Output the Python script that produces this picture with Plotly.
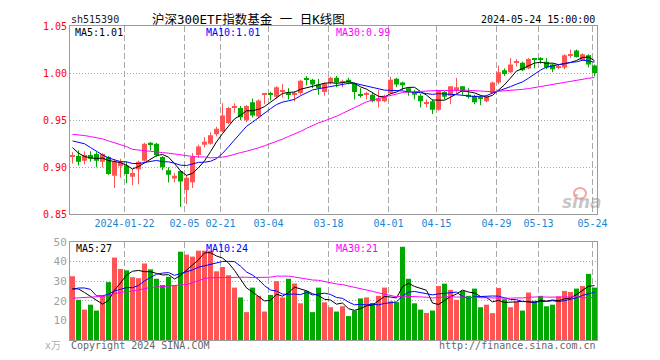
import numpy as np
import plotly.graph_objects as go

# ---------------- data ----------------
date_ticks = ["2024-01-22", "02-05", "02-21", "03-04", "03-18",
              "04-01", "04-15", "04-29", "05-13", "05-24"]
date_tick_idx = [9, 19, 25, 33, 43, 53, 61, 71, 78, 87]

open_ = [0.911, 0.912, 0.907, 0.913, 0.914, 0.906, 0.911, 0.891, 0.901, 0.902,
         0.890, 0.898, 0.907, 0.926, 0.925, 0.911, 0.897, 0.888, 0.896, 0.876,
         0.884, 0.913, 0.924, 0.925, 0.935, 0.938, 0.947, 0.963, 0.963, 0.950,
         0.969, 0.954, 0.977, 0.978, 0.975, 0.980, 0.979, 0.977, 0.979, 0.994,
         0.993, 0.988, 0.980, 0.990, 0.995, 0.990, 0.993, 0.989, 0.977, 0.977,
         0.977, 0.970, 0.970, 0.979, 0.994, 0.990, 0.984, 0.980, 0.976, 0.968,
         0.970, 0.961, 0.980, 0.976, 0.981, 0.986, 0.977, 0.976, 0.974, 0.970,
         0.979, 0.990, 1.003, 1.001, 1.011, 1.011, 1.005, 1.015, 1.015, 1.012,
         1.009, 1.006, 1.006, 1.019, 1.024, 1.014, 1.019, 1.008]
high = [0.916, 0.918, 0.917, 0.917, 0.916, 0.915, 0.912, 0.908, 0.909, 0.906,
        0.898, 0.907, 0.926, 0.927, 0.926, 0.912, 0.900, 0.894, 0.897, 0.892,
        0.915, 0.924, 0.932, 0.937, 0.943, 0.968, 0.964, 0.968, 0.965, 0.966,
        0.973, 0.972, 0.979, 0.980, 0.986, 0.9885, 0.984, 0.981, 0.993, 0.997,
        0.994, 0.994, 0.990, 0.996, 0.997, 0.993, 0.995, 0.990, 0.984, 0.980,
        0.979, 0.982, 0.977, 0.996, 0.995, 0.991, 0.985, 0.982, 0.978, 0.972,
        0.972, 0.982, 0.981, 0.986, 0.995, 0.986, 0.984, 0.977, 0.976, 0.977,
        0.991, 1.008, 1.005, 1.016, 1.015, 1.012, 1.016, 1.016, 1.017, 1.016,
        1.010, 1.009, 1.020, 1.025, 1.025, 1.021, 1.020, 1.009]
low = [0.904, 0.902, 0.903, 0.906, 0.900, 0.900, 0.892, 0.878, 0.889, 0.883,
       0.881, 0.882, 0.906, 0.918, 0.911, 0.897, 0.884, 0.884, 0.858, 0.861,
       0.878, 0.910, 0.921, 0.924, 0.933, 0.937, 0.946, 0.958, 0.950, 0.948,
       0.953, 0.952, 0.967, 0.971, 0.973, 0.974, 0.972, 0.970, 0.977, 0.987,
       0.984, 0.977, 0.976, 0.988, 0.985, 0.985, 0.988, 0.972, 0.974, 0.972,
       0.969, 0.9635, 0.969, 0.978, 0.985, 0.982, 0.976, 0.972, 0.9635, 0.9635,
       0.9566, 0.960, 0.972, 0.967, 0.979, 0.977, 0.973, 0.967, 0.966, 0.969,
       0.978, 0.988, 0.997, 1.000, 1.007, 1.002, 1.004, 1.005, 1.010, 1.004,
       1.001, 1.004, 1.004, 1.016, 1.0165, 1.013, 1.006, 0.9965]
close = [0.912, 0.906, 0.913, 0.909, 0.907, 0.914, 0.893, 0.906, 0.905, 0.893,
         0.894, 0.906, 0.925, 0.924, 0.913, 0.900, 0.892, 0.891, 0.885, 0.889,
         0.911, 0.922, 0.927, 0.934, 0.941, 0.955, 0.963, 0.964, 0.953, 0.965,
         0.955, 0.971, 0.978, 0.977, 0.985, 0.981, 0.977, 0.979, 0.992, 0.993,
         0.988, 0.984, 0.989, 0.995, 0.990, 0.991, 0.990, 0.980, 0.976, 0.978,
         0.970, 0.973, 0.976, 0.993, 0.988, 0.987, 0.980, 0.977, 0.970, 0.969,
         0.961, 0.981, 0.975, 0.986, 0.985, 0.980, 0.975, 0.969, 0.973, 0.975,
         0.990, 1.001, 0.999, 1.009, 1.012, 1.003, 1.015, 1.014, 1.014, 1.006,
         1.004, 1.007, 1.019, 1.020, 1.017, 1.020, 1.009, 1.000]
volume = [32.5, 20.5, 15.5, 18, 15, 22.5, 29.5, 42, 36.2, 35.5,
          32, 31.5, 39, 36, 31.2, 28, 32.2, 28, 45, 43.5,
          42.5, 45.5, 45.5, 45.5, 35, 37.2, 33, 26.7, 21.7, 14.2,
          26.7, 22.5, 14.5, 23, 30, 21.7, 31.2, 28.8, 18.7, 25,
          14.2, 26.7, 19.2, 16.7, 14.5, 17.2, 12.2, 15, 21.2, 21.7,
          18.8, 22.5, 26.7, 19.8, 19.3, 47.5, 31.2, 18.7, 15.5, 13.8,
          15, 27.5, 28.7, 25.5, 20.5, 25, 22.5, 26.2, 16.7, 18,
          13.7, 26.5, 20.8, 16.7, 19.5, 15, 24.2, 20, 22.5, 17.2,
          18, 22.2, 25, 24.5, 26.2, 27.5, 33.7, 26.7]

# moving-average values before enough history exists
ma5_early = [0.921, 0.915, 0.9115, 0.910]
ma10_early = [0.928, 0.9265, 0.925, 0.921, 0.9167, 0.9131, 0.910, 0.908, 0.906]
ma30_early = [0.935, 0.9347, 0.9337, 0.9326, 0.9316, 0.9302, 0.928, 0.926, 0.924,
              0.922, 0.919, 0.918, 0.9177, 0.917, 0.9167, 0.9156, 0.915, 0.914,
              0.913, 0.912, 0.9115, 0.911, 0.911, 0.910, 0.910, 0.9108, 0.912,
              0.914, 0.9156]
vma5_early = [26.2, 26.0, 24.2, 22.2]
vma10_early = [25.8, 26.5, 26.5, 25.8, 22.5, 22.5, 23.3, 25.0, 25.8]
vma30_early = [21.3, 21.5, 21.7, 21.8, 21.8, 22.2, 22.8, 23.7, 24.2, 24.5, 25.0,
               25.5, 26.2, 26.8, 27.0, 27.2, 27.5, 27.8, 28.0, 28.3, 29.2, 30.3,
               31.3, 31.7, 31.8, 31.8, 32.0, 32.0, 32.0]

header_code = "sh515390"
header_title = "沪深300ETF指数基金 一 日K线图"
header_time = "2024-05-24 15:00:00"
price_ma_text = ["MA5:1.01", "MA10:1.01", "MA30:0.99"]
vol_ma_text = ["MA5:27", "MA10:24", "MA30:21"]


def moving_avg(vals, n, early):
    vals = np.asarray(vals, dtype=float)
    out = []
    for i in range(len(vals)):
        if i >= n - 1:
            out.append(vals[i - n + 1:i + 1].mean())
        else:
            out.append(early[i])
    return out


# ---------------- styles ----------------
RED = "#ff5454"
GREEN = "#00a800"
GRID = "#a8a8a8"
FRAME = "#9a9a9a"
MONO = "DejaVu Sans Mono, Liberation Mono, monospace"

PAGE_OFF = 8                      # default body margin of the html page
W, H = 660 - PAGE_OFF, 360 - PAGE_OFF
PL, PT, PW, PH = 70, 20, 527, 320  # plot area in page pixels
ML, MT = PL - PAGE_OFF, PT - PAGE_OFF
MR, MB = W - ML - PW, H - MT - PH


def xp(px):
    return (px - PL) / PW


def yp(py):
    return (PT + PH - py) / PH


n = len(close)
idx = list(range(n))
up = [c >= o for o, c in zip(open_, close)]
colors = [RED if u else GREEN for u in up]

fig = go.Figure()

# wicks
for flag, col in ((True, RED), (False, GREEN)):
    wx, wy = [], []
    for i in idx:
        if up[i] == flag:
            wx += [i, i, None]
            wy += [low[i], high[i], None]
    fig.add_trace(go.Scatter(x=wx, y=wy, mode="lines",
                             line=dict(color=col, width=1),
                             xaxis="x", yaxis="y", hoverinfo="skip"))

# bodies
body_base = [min(o, c) for o, c in zip(open_, close)]
body_h = [max(abs(c - o), 0.0011) for o, c in zip(open_, close)]
fig.add_trace(go.Bar(x=idx, y=body_h, base=body_base, width=0.8333,
                     marker=dict(color=colors, line=dict(width=0)),
                     xaxis="x", yaxis="y", hoverinfo="skip"))

# price MAs
for vals, nn, early, col in ((close, 5, ma5_early, "#000000"),
                             (close, 10, ma10_early, "#0000ff"),
                             (close, 30, ma30_early, "#ff00ff")):
    fig.add_trace(go.Scatter(x=idx, y=moving_avg(vals, nn, early), mode="lines",
                             line=dict(color=col, width=1),
                             xaxis="x", yaxis="y", hoverinfo="skip"))

# volume bars
fig.add_trace(go.Bar(x=idx, y=volume, width=0.8333,
                     marker=dict(color=colors, line=dict(width=0)),
                     xaxis="x2", yaxis="y2", hoverinfo="skip"))
for vals, nn, early, col in ((volume, 5, vma5_early, "#000000"),
                             (volume, 10, vma10_early, "#0000ff"),
                             (volume, 30, vma30_early, "#ff00ff")):
    fig.add_trace(go.Scatter(x=idx, y=moving_avg(vals, nn, early), mode="lines",
                             line=dict(color=col, width=1),
                             xaxis="x2", yaxis="y2", hoverinfo="skip"))

x0 = -2.5 / 6
xrange = [x0, x0 + PW / 6]
grid_x = [i - 0.3333 for i in date_tick_idx]

axis_common = dict(showline=True, linecolor=FRAME, linewidth=1, mirror=True,
                   zeroline=False, ticks="", fixedrange=True)

fig.update_layout(
    width=W, height=H, margin=dict(l=ML, r=MR, t=MT, b=MB, pad=0),
    paper_bgcolor="white", plot_bgcolor="white",
    showlegend=False, barmode="overlay", hovermode=False,
    font=dict(family=MONO, size=10, color="#000"),
    xaxis=dict(domain=[0, 1], range=xrange, anchor="y",
               tickmode="array", tickvals=grid_x, ticktext=date_ticks,
               tickfont=dict(family=MONO, size=10, color="#1a86d4"),
               showgrid=True, gridcolor=GRID, griddash="6px,3px", gridwidth=1,
               **axis_common),
    yaxis=dict(domain=[yp(212), 1], range=[0.85, 1.05], anchor="x",
               tickmode="array", tickvals=[0.85, 0.90, 0.95, 1.00, 1.05],
               ticktext=["0.85", "0.90", "0.95", "1.00", "1.05"],
               tickfont=dict(family=MONO, size=10, color="#ff0000"),
               showgrid=True, gridcolor=GRID, griddash="1px,2px", gridwidth=1,
               **axis_common),
    xaxis2=dict(domain=[0, 1], range=xrange, anchor="y2",
                tickmode="array", tickvals=grid_x, showticklabels=False,
                showgrid=True, gridcolor=GRID, griddash="6px,3px", gridwidth=1,
                **axis_common),
    yaxis2=dict(domain=[0, yp(240)], range=[0, 50], anchor="x2",
                tickmode="array", tickvals=[10, 20, 30, 40, 50],
                ticktext=["10", "20", "30", "40", "50"],
                tickfont=dict(family=MONO, size=11, color="#a0a0a0"),
                showgrid=True, gridcolor=GRID, griddash="1px,2px", gridwidth=1,
                **axis_common),
)


def note(text, px, py, anchor="left", size=10, color="#000", family=MONO, **kw):
    fig.add_annotation(text=text, x=xp(px), y=yp(py), xref="paper", yref="paper",
                       xanchor=anchor, yanchor="middle", showarrow=False,
                       font=dict(family=family, size=size, color=color), **kw)


note(header_code, 69, 13, color="#222")
note(header_title, 150, 13, size=12.5, color="#000",
     family="DejaVu Sans Mono, Noto Sans CJK SC, sans-serif")
note(header_time, 597, 13, anchor="right", color="#000")

for txt, px, col in zip(price_ma_text, (73, 204, 334), ("#000", "#0000ff", "#ff00ff")):
    note(txt, px, 27, color=col)
for txt, px, col in zip(vol_ma_text, (74, 204, 334), ("#000", "#0000ff", "#ff00ff")):
    note(txt, px, 247, color=col)

note("Copyright 2024 SINA.COM", 69, 346, color="#666")
note("http://finance.sina.com.cn", 598, 346, anchor="right", color="#666")
note("x万", 63, 346, anchor="right", color="#b0b0b0", size=10,
     family="DejaVu Sans, Noto Sans CJK SC, sans-serif")

# sina watermark
fig.add_shape(type="circle", xref="paper", yref="paper",
              x0=xp(574), x1=xp(586), y0=yp(196), y1=yp(185),
              line=dict(color="rgba(240,90,90,0.55)", width=2))
note("<b><i>sina</i></b>", 582, 199, anchor="center", size=17,
     color="rgba(150,150,150,0.55)", family="DejaVu Sans, sans-serif")

fig.write_html("out.html")
